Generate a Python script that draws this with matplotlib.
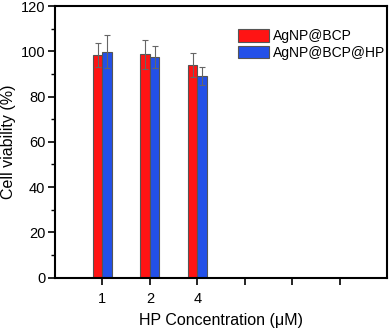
import matplotlib
matplotlib.use("Agg")
import matplotlib.pyplot as plt
import numpy as np
from matplotlib.ticker import MultipleLocator

plt.rcParams['font.family'] = ['Liberation Sans', 'DejaVu Sans']

positions = [1, 2, 3]
tick_positions = [1, 2, 3, 4, 5, 6]
tick_labels = ["1", "2", "4", "", "", ""]
series_names = ["AgNP@BCP", "AgNP@BCP@HP"]
red_vals = [98.4, 98.6, 94.0]
red_err = [5.3, 6.6, 5.2]
blue_vals = [99.9, 97.6, 89.0]
blue_err = [7.3, 4.8, 4.0]
colors = ["#FF1414", "#2350E8"]

fig = plt.figure(figsize=(3.92, 3.30), dpi=100)
ax = fig.add_axes([55/392, 1-277.7/330, (387-55)/392, (277.7-6)/330])

w = 0.2
x = np.array(positions)
ax.bar(x - w/2, red_vals, w, color=colors[0], edgecolor="#555555", linewidth=0.8,
       yerr=red_err, error_kw=dict(ecolor="#666666", elinewidth=0.8, capsize=2.5, capthick=0.8),
       label=series_names[0], zorder=2)
ax.bar(x + w/2, blue_vals, w, color=colors[1], edgecolor="#555555", linewidth=0.8,
       yerr=blue_err, error_kw=dict(ecolor="#666666", elinewidth=0.8, capsize=2.5, capthick=0.8),
       label=series_names[1], zorder=2)

ax.set_xlim(0, 7)
ax.set_ylim(0, 120)
ax.set_xticks(tick_positions)
ax.set_xticklabels(tick_labels)
ax.yaxis.set_major_locator(MultipleLocator(20))
ax.yaxis.set_minor_locator(MultipleLocator(10))
ax.tick_params(axis='both', which='major', direction='out', length=5, width=1.2, labelsize=10.5)
ax.tick_params(axis='y', which='minor', direction='out', length=3, width=1.0)
ax.tick_params(axis='y', which='major', pad=2)
ax.tick_params(axis='x', which='major', pad=5)
for s in ax.spines.values():
    s.set_linewidth(1.5)

ax.set_ylabel("Cell viability (%)", fontsize=11.5, labelpad=3)
ax.set_xlabel("HP Concentration (\u03bcM)", fontsize=11.5, labelpad=5)

ax.legend(loc='upper left', bbox_to_anchor=(0.535, 0.935), frameon=False, fontsize=10,
          handlelength=2.2, handleheight=1.0, handletextpad=0.3, labelspacing=0.2,
          borderaxespad=0)

fig.savefig("out.png", dpi=100)
